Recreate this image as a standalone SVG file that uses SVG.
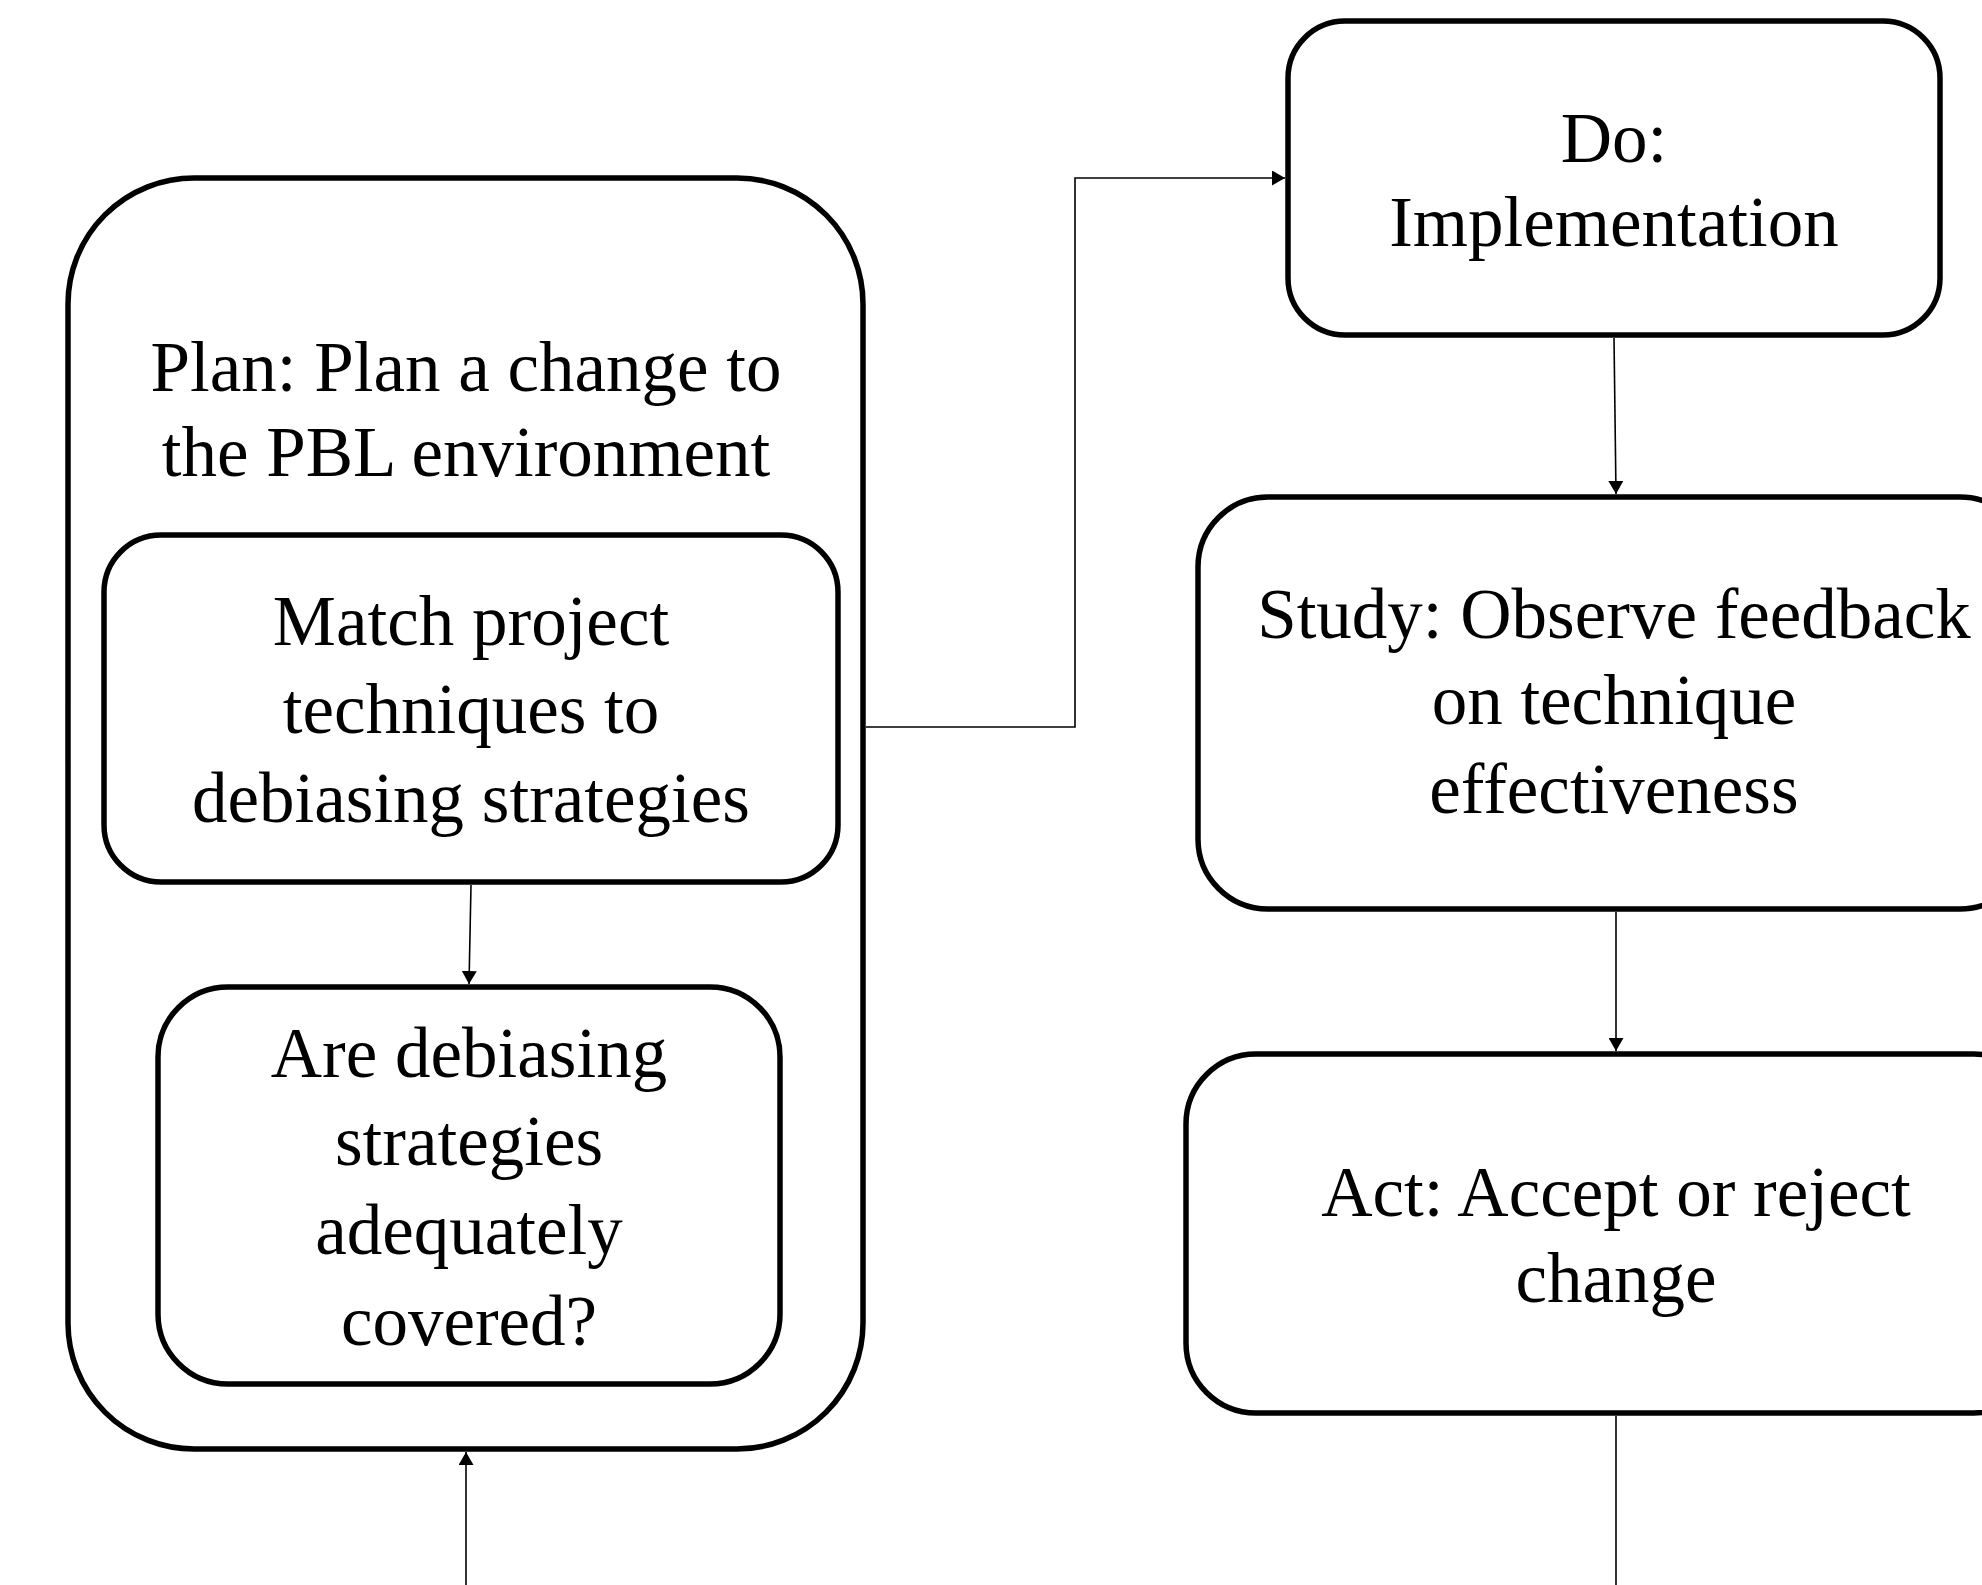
<svg xmlns="http://www.w3.org/2000/svg" width="1982" height="1585" viewBox="0 0 1982 1585">
<style>
.box{fill:#fff;stroke:#000;stroke-width:5.5}
.t{font-family:"Liberation Serif","Times New Roman",serif;font-size:71px;fill:#000;text-anchor:middle}
.c{fill:none;stroke:#000;stroke-width:1.6}
</style>
<defs>
<marker id="ah" viewBox="0 0 13 15" refX="13" refY="7.5" markerWidth="13" markerHeight="15" markerUnits="userSpaceOnUse" orient="auto">
<path d="M0,0 L13,7.5 L0,15 z" fill="#000"/>
</marker>
</defs>
<rect width="1982" height="1585" fill="#fff"/>
<g id="plan">
<rect class="box" x="68" y="178" width="795" height="1271" rx="126" ry="126"/>
<text class="t" x="466" y="391">Plan: Plan a change to</text>
<text class="t" x="466" y="476">the PBL environment</text>
</g>
<g id="match">
<rect class="box" x="104" y="535" width="734" height="347" rx="57" ry="57"/>
<text class="t" x="471" y="645">Match project</text>
<text class="t" x="471" y="733">techniques to</text>
<text class="t" x="471" y="822">debiasing strategies</text>
</g>
<g id="covered">
<rect class="box" x="158" y="987" width="622" height="397" rx="70" ry="70"/>
<text class="t" x="469" y="1077">Are debiasing</text>
<text class="t" x="469" y="1165">strategies</text>
<text class="t" x="469" y="1254">adequately</text>
<text class="t" x="469" y="1345">covered?</text>
</g>
<g id="do">
<rect class="box" x="1288" y="21" width="652" height="314" rx="57" ry="57"/>
<text class="t" x="1614" y="162">Do:</text>
<text class="t" x="1614" y="246">Implementation</text>
</g>
<g id="study">
<rect class="box" x="1198" y="497" width="832" height="412" rx="70" ry="70"/>
<text class="t" x="1614" y="638">Study: Observe feedback</text>
<text class="t" x="1614" y="724">on technique</text>
<text class="t" x="1614" y="813">effectiveness</text>
</g>
<g id="act">
<rect class="box" x="1186" y="1054" width="858" height="359" rx="70" ry="70"/>
<text class="t" x="1616" y="1216">Act: Accept or reject</text>
<text class="t" x="1616" y="1302">change</text>
</g>
<g id="connectors">
<path class="c" d="M866,727 H1075 V178 H1285" marker-end="url(#ah)"/>
<path class="c" d="M1614,338 L1616,494" marker-end="url(#ah)"/>
<path class="c" d="M471,885 L469,984" marker-end="url(#ah)"/>
<path class="c" d="M1616,912 V1051" marker-end="url(#ah)"/>
<path class="c" d="M1616,1416 V1590"/>
<path class="c" d="M466,1590 V1452" marker-end="url(#ah)"/>
</g>
</svg>
